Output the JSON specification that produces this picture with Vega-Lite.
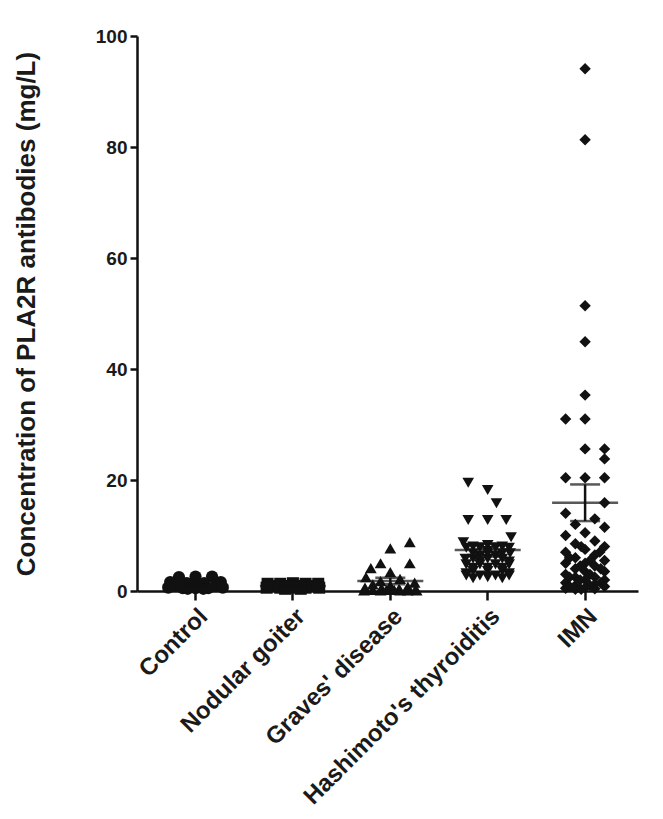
{
  "$schema": "https://vega.github.io/schema/vega-lite/v6.json",
  "autosize": "none",
  "width": 501,
  "height": 555,
  "padding": {"left": 137, "top": 36, "right": 25, "bottom": 228},
  "background": "white",
  "datasets": {
    "pts": [
      {"g": "Control", "v": 2.5, "dx": -1.7},
      {"g": "Control", "v": 2.6, "dx": 0},
      {"g": "Control", "v": 2.6, "dx": 1.7},
      {"g": "Control", "v": 1.6, "dx": -2.6},
      {"g": "Control", "v": 1.4, "dx": -0.9},
      {"g": "Control", "v": 1.4, "dx": 0.9},
      {"g": "Control", "v": 1.6, "dx": 2.6},
      {"g": "Control", "v": 1.0, "dx": -2.1},
      {"g": "Control", "v": 0.9, "dx": -0.5},
      {"g": "Control", "v": 0.9, "dx": 0.5},
      {"g": "Control", "v": 1.0, "dx": 2.1},
      {"g": "Control", "v": 0.6, "dx": -2.8},
      {"g": "Control", "v": 0.5, "dx": -1.3},
      {"g": "Control", "v": 0.5, "dx": 0},
      {"g": "Control", "v": 0.5, "dx": 1.3},
      {"g": "Control", "v": 0.6, "dx": 2.8},
      {"g": "Control", "v": 0.4, "dx": -0.8},
      {"g": "Control", "v": 0.4, "dx": 0.8},
      {"g": "Nodular goiter", "v": 1.3, "dx": -2.6},
      {"g": "Nodular goiter", "v": 1.3, "dx": -1.3},
      {"g": "Nodular goiter", "v": 1.4, "dx": 0},
      {"g": "Nodular goiter", "v": 1.3, "dx": 1.3},
      {"g": "Nodular goiter", "v": 1.3, "dx": 2.6},
      {"g": "Nodular goiter", "v": 0.9, "dx": -2},
      {"g": "Nodular goiter", "v": 0.9, "dx": -0.7},
      {"g": "Nodular goiter", "v": 0.9, "dx": 0.7},
      {"g": "Nodular goiter", "v": 0.9, "dx": 2},
      {"g": "Nodular goiter", "v": 0.6, "dx": -2.7},
      {"g": "Nodular goiter", "v": 0.6, "dx": -1.3},
      {"g": "Nodular goiter", "v": 0.6, "dx": 0},
      {"g": "Nodular goiter", "v": 0.6, "dx": 1.3},
      {"g": "Nodular goiter", "v": 0.6, "dx": 2.7},
      {"g": "Nodular goiter", "v": 0.4, "dx": -0.8},
      {"g": "Nodular goiter", "v": 0.4, "dx": 0.8},
      {"g": "Graves' disease", "v": 8.8, "dx": 2},
      {"g": "Graves' disease", "v": 7.7, "dx": 0},
      {"g": "Graves' disease", "v": 5.0, "dx": -1},
      {"g": "Graves' disease", "v": 5.0, "dx": 2},
      {"g": "Graves' disease", "v": 4.1, "dx": -2},
      {"g": "Graves' disease", "v": 3.4, "dx": 0},
      {"g": "Graves' disease", "v": 2.5, "dx": -2.5},
      {"g": "Graves' disease", "v": 2.2, "dx": 1},
      {"g": "Graves' disease", "v": 1.8, "dx": -1},
      {"g": "Graves' disease", "v": 1.5, "dx": 2.5},
      {"g": "Graves' disease", "v": 1.2, "dx": -1.8},
      {"g": "Graves' disease", "v": 1.0, "dx": 0},
      {"g": "Graves' disease", "v": 0.8, "dx": 1.8},
      {"g": "Graves' disease", "v": 0.6, "dx": -2.6},
      {"g": "Graves' disease", "v": 0.5, "dx": -0.9},
      {"g": "Graves' disease", "v": 0.4, "dx": 0.9},
      {"g": "Graves' disease", "v": 0.3, "dx": 2.6},
      {"g": "Graves' disease", "v": 0.2, "dx": -1.8},
      {"g": "Graves' disease", "v": 0.2, "dx": 0},
      {"g": "Graves' disease", "v": 0.1, "dx": 1.8},
      {"g": "Graves' disease", "v": 0.1, "dx": -1},
      {"g": "Graves' disease", "v": 0.1, "dx": 1},
      {"g": "Graves' disease", "v": 0.1, "dx": -2.7},
      {"g": "Graves' disease", "v": 0.1, "dx": 2.7},
      {"g": "Graves' disease", "v": 0.2, "dx": -0.4},
      {"g": "Graves' disease", "v": 0.2, "dx": 0.4},
      {"g": "Hashimoto's thyroiditis", "v": 19.5, "dx": -2},
      {"g": "Hashimoto's thyroiditis", "v": 18.2, "dx": 0},
      {"g": "Hashimoto's thyroiditis", "v": 15.8, "dx": 0.9},
      {"g": "Hashimoto's thyroiditis", "v": 12.8, "dx": -2},
      {"g": "Hashimoto's thyroiditis", "v": 12.8, "dx": 0},
      {"g": "Hashimoto's thyroiditis", "v": 12.8, "dx": 1.9},
      {"g": "Hashimoto's thyroiditis", "v": 9.7, "dx": 2.4},
      {"g": "Hashimoto's thyroiditis", "v": 8.8, "dx": -2.5},
      {"g": "Hashimoto's thyroiditis", "v": 8.3, "dx": 0},
      {"g": "Hashimoto's thyroiditis", "v": 8.0, "dx": -1.5},
      {"g": "Hashimoto's thyroiditis", "v": 8.0, "dx": 1.5},
      {"g": "Hashimoto's thyroiditis", "v": 7.8, "dx": -2.2},
      {"g": "Hashimoto's thyroiditis", "v": 7.8, "dx": -0.8},
      {"g": "Hashimoto's thyroiditis", "v": 7.8, "dx": 0.8},
      {"g": "Hashimoto's thyroiditis", "v": 7.8, "dx": 2.2},
      {"g": "Hashimoto's thyroiditis", "v": 7.2, "dx": 0},
      {"g": "Hashimoto's thyroiditis", "v": 6.8, "dx": -1.5},
      {"g": "Hashimoto's thyroiditis", "v": 6.8, "dx": 0},
      {"g": "Hashimoto's thyroiditis", "v": 6.8, "dx": 1.5},
      {"g": "Hashimoto's thyroiditis", "v": 6.8, "dx": 2.3},
      {"g": "Hashimoto's thyroiditis", "v": 6.3, "dx": -0.8},
      {"g": "Hashimoto's thyroiditis", "v": 6.3, "dx": 0.8},
      {"g": "Hashimoto's thyroiditis", "v": 5.8, "dx": -2.3},
      {"g": "Hashimoto's thyroiditis", "v": 5.8, "dx": -1.5},
      {"g": "Hashimoto's thyroiditis", "v": 5.8, "dx": 0},
      {"g": "Hashimoto's thyroiditis", "v": 5.8, "dx": 1.5},
      {"g": "Hashimoto's thyroiditis", "v": 5.3, "dx": -0.8},
      {"g": "Hashimoto's thyroiditis", "v": 5.3, "dx": 2.2},
      {"g": "Hashimoto's thyroiditis", "v": 4.8, "dx": -2.2},
      {"g": "Hashimoto's thyroiditis", "v": 4.8, "dx": -0.8},
      {"g": "Hashimoto's thyroiditis", "v": 4.8, "dx": 0.8},
      {"g": "Hashimoto's thyroiditis", "v": 4.8, "dx": 2.2},
      {"g": "Hashimoto's thyroiditis", "v": 4.2, "dx": -1.5},
      {"g": "Hashimoto's thyroiditis", "v": 4.2, "dx": 0},
      {"g": "Hashimoto's thyroiditis", "v": 4.2, "dx": 1.5},
      {"g": "Hashimoto's thyroiditis", "v": 3.6, "dx": -1.5},
      {"g": "Hashimoto's thyroiditis", "v": 3.6, "dx": 0},
      {"g": "Hashimoto's thyroiditis", "v": 3.6, "dx": 1.5},
      {"g": "Hashimoto's thyroiditis", "v": 3.2, "dx": -2.2},
      {"g": "Hashimoto's thyroiditis", "v": 3.2, "dx": 2.2},
      {"g": "Hashimoto's thyroiditis", "v": 2.8, "dx": -2.2},
      {"g": "Hashimoto's thyroiditis", "v": 2.8, "dx": -0.8},
      {"g": "Hashimoto's thyroiditis", "v": 2.8, "dx": 0.8},
      {"g": "Hashimoto's thyroiditis", "v": 2.8, "dx": 2.2},
      {"g": "Hashimoto's thyroiditis", "v": 2.5, "dx": 0},
      {"g": "Hashimoto's thyroiditis", "v": 2.3, "dx": -1.5},
      {"g": "Hashimoto's thyroiditis", "v": 2.3, "dx": 1.5},
      {"g": "IMN", "v": 94.1, "dx": 0},
      {"g": "IMN", "v": 81.3, "dx": 0},
      {"g": "IMN", "v": 51.4, "dx": 0},
      {"g": "IMN", "v": 44.9, "dx": 0},
      {"g": "IMN", "v": 35.3, "dx": 0},
      {"g": "IMN", "v": 31.0, "dx": -2},
      {"g": "IMN", "v": 31.0, "dx": 0},
      {"g": "IMN", "v": 25.6, "dx": 0},
      {"g": "IMN", "v": 25.6, "dx": 2},
      {"g": "IMN", "v": 23.8, "dx": 2},
      {"g": "IMN", "v": 20.4, "dx": -2},
      {"g": "IMN", "v": 20.4, "dx": 0},
      {"g": "IMN", "v": 20.4, "dx": 2},
      {"g": "IMN", "v": 15.9, "dx": 2},
      {"g": "IMN", "v": 14.0, "dx": -2},
      {"g": "IMN", "v": 13.0, "dx": 1},
      {"g": "IMN", "v": 12.0, "dx": -1},
      {"g": "IMN", "v": 11.5, "dx": 2},
      {"g": "IMN", "v": 10.5, "dx": 0},
      {"g": "IMN", "v": 10.0, "dx": -2},
      {"g": "IMN", "v": 9.0, "dx": 1},
      {"g": "IMN", "v": 8.5, "dx": -1},
      {"g": "IMN", "v": 8.0, "dx": 2},
      {"g": "IMN", "v": 8.0, "dx": -0.4},
      {"g": "IMN", "v": 7.5, "dx": 0},
      {"g": "IMN", "v": 7.0, "dx": -2},
      {"g": "IMN", "v": 7.0, "dx": 1.5},
      {"g": "IMN", "v": 6.5, "dx": 1},
      {"g": "IMN", "v": 6.0, "dx": -1},
      {"g": "IMN", "v": 6.0, "dx": -1.6},
      {"g": "IMN", "v": 5.5, "dx": 2},
      {"g": "IMN", "v": 5.5, "dx": 0.5},
      {"g": "IMN", "v": 5.0, "dx": 0},
      {"g": "IMN", "v": 5.0, "dx": -2},
      {"g": "IMN", "v": 4.5, "dx": 1},
      {"g": "IMN", "v": 4.5, "dx": -0.5},
      {"g": "IMN", "v": 4.0, "dx": -1},
      {"g": "IMN", "v": 4.0, "dx": 1.6},
      {"g": "IMN", "v": 3.5, "dx": 2},
      {"g": "IMN", "v": 3.5, "dx": 0},
      {"g": "IMN", "v": 3.0, "dx": -2},
      {"g": "IMN", "v": 3.0, "dx": 0.5},
      {"g": "IMN", "v": 2.5, "dx": 1},
      {"g": "IMN", "v": 2.5, "dx": -1},
      {"g": "IMN", "v": 2.5, "dx": -1.6},
      {"g": "IMN", "v": 2.0, "dx": 2},
      {"g": "IMN", "v": 2.0, "dx": 0},
      {"g": "IMN", "v": 2.0, "dx": -0.5},
      {"g": "IMN", "v": 1.5, "dx": -2},
      {"g": "IMN", "v": 1.5, "dx": 1.6},
      {"g": "IMN", "v": 1.2, "dx": 1},
      {"g": "IMN", "v": 1.0, "dx": -1},
      {"g": "IMN", "v": 1.0, "dx": 0.5},
      {"g": "IMN", "v": 0.8, "dx": 2},
      {"g": "IMN", "v": 0.8, "dx": -1.6},
      {"g": "IMN", "v": 0.6, "dx": 0},
      {"g": "IMN", "v": 0.5, "dx": -2},
      {"g": "IMN", "v": 0.4, "dx": 1},
      {"g": "IMN", "v": 0.3, "dx": -1},
      {"g": "IMN", "v": 0.3, "dx": -0.4}
    ],
    "stats": [
      {"g": "Control", "mean": 1.0, "lo": 0.8, "hi": 1.2},
      {"g": "Nodular goiter", "mean": 0.9, "lo": 0.8, "hi": 1.0},
      {"g": "Graves' disease", "mean": 1.8, "lo": 1.2, "hi": 2.4},
      {"g": "Hashimoto's thyroiditis", "mean": 7.4, "lo": 6.2, "hi": 8.6},
      {"g": "IMN", "mean": 15.9, "lo": 12.6, "hi": 19.2}
    ]
  },
  "encoding": {
    "x": {
      "field": "g",
      "type": "nominal",
      "sort": ["Control", "Nodular goiter", "Graves' disease", "Hashimoto's thyroiditis", "IMN"],
      "scale": {"paddingInner": 0, "paddingOuter": 0.072, "align": 0.7},
      "axis": {
        "title": null,
        "labelAngle": -45,
        "labelAlign": "right",
        "labelBaseline": "top",
        "labelPadding": 4,
        "labelFontSize": 24,
        "labelLimit": 0,
        "tickSize": 9,
        "bandPosition": 0.5
      }
    }
  },
  "layer": [
    {
      "data": {"name": "pts"},
      "mark": {"type": "point", "filled": true, "opacity": 1, "color": "#111111", "clip": false},
      "encoding": {
        "xOffset": {"field": "dx", "type": "quantitative", "scale": {"domain": [-5, 5]}},
        "y": {
          "field": "v",
          "type": "quantitative",
          "scale": {"domain": [0, 100], "nice": false},
          "axis": {
            "title": "Concentration of PLA2R antibodies (mg/L)",
            "values": [0, 20, 40, 60, 80, 100],
            "labelFontSize": 19,
            "titleFontSize": 26,
            "titlePadding": 56
          }
        },
        "shape": {
          "field": "g",
          "type": "nominal",
          "scale": {
            "domain": ["Control", "Nodular goiter", "Graves' disease", "Hashimoto's thyroiditis", "IMN"],
            "range": ["circle", "square", "triangle-up", "triangle-down", "diamond"]
          },
          "legend": null
        },
        "size": {
          "field": "g",
          "type": "ordinal",
          "scale": {
            "domain": ["Control", "Nodular goiter", "Graves' disease", "Hashimoto's thyroiditis", "IMN"],
            "range": [150, 130, 220, 220, 280]
          },
          "legend": null
        }
      }
    },
    {
      "data": {"name": "stats"},
      "mark": {"type": "tick", "color": "#111111", "thickness": 2.5, "size": 66},
      "encoding": {"y": {"field": "mean", "type": "quantitative"}}
    },
    {
      "data": {"name": "stats"},
      "mark": {"type": "tick", "color": "#111111", "thickness": 2.5, "size": 30},
      "encoding": {"y": {"field": "lo", "type": "quantitative"}}
    },
    {
      "data": {"name": "stats"},
      "mark": {"type": "tick", "color": "#111111", "thickness": 2.5, "size": 30},
      "encoding": {"y": {"field": "hi", "type": "quantitative"}}
    },
    {
      "data": {"name": "stats"},
      "mark": {"type": "rule", "color": "#111111", "strokeWidth": 2.5},
      "encoding": {
        "y": {"field": "lo", "type": "quantitative"},
        "y2": {"field": "hi"}
      }
    }
  ],
  "config": {
    "view": {"stroke": null},
    "font": "Liberation Sans",
    "axis": {
      "grid": false,
      "domainColor": "#111111",
      "domainWidth": 2.5,
      "tickColor": "#111111",
      "tickWidth": 2.5,
      "tickSize": 7,
      "labelFont": "Liberation Sans",
      "labelFontWeight": "bold",
      "labelFontSize": 17,
      "labelColor": "#1a1a1a",
      "titleFont": "Liberation Sans",
      "titleFontWeight": "bold",
      "titleColor": "#1a1a1a",
      "labelPadding": 3
    }
  }
}
